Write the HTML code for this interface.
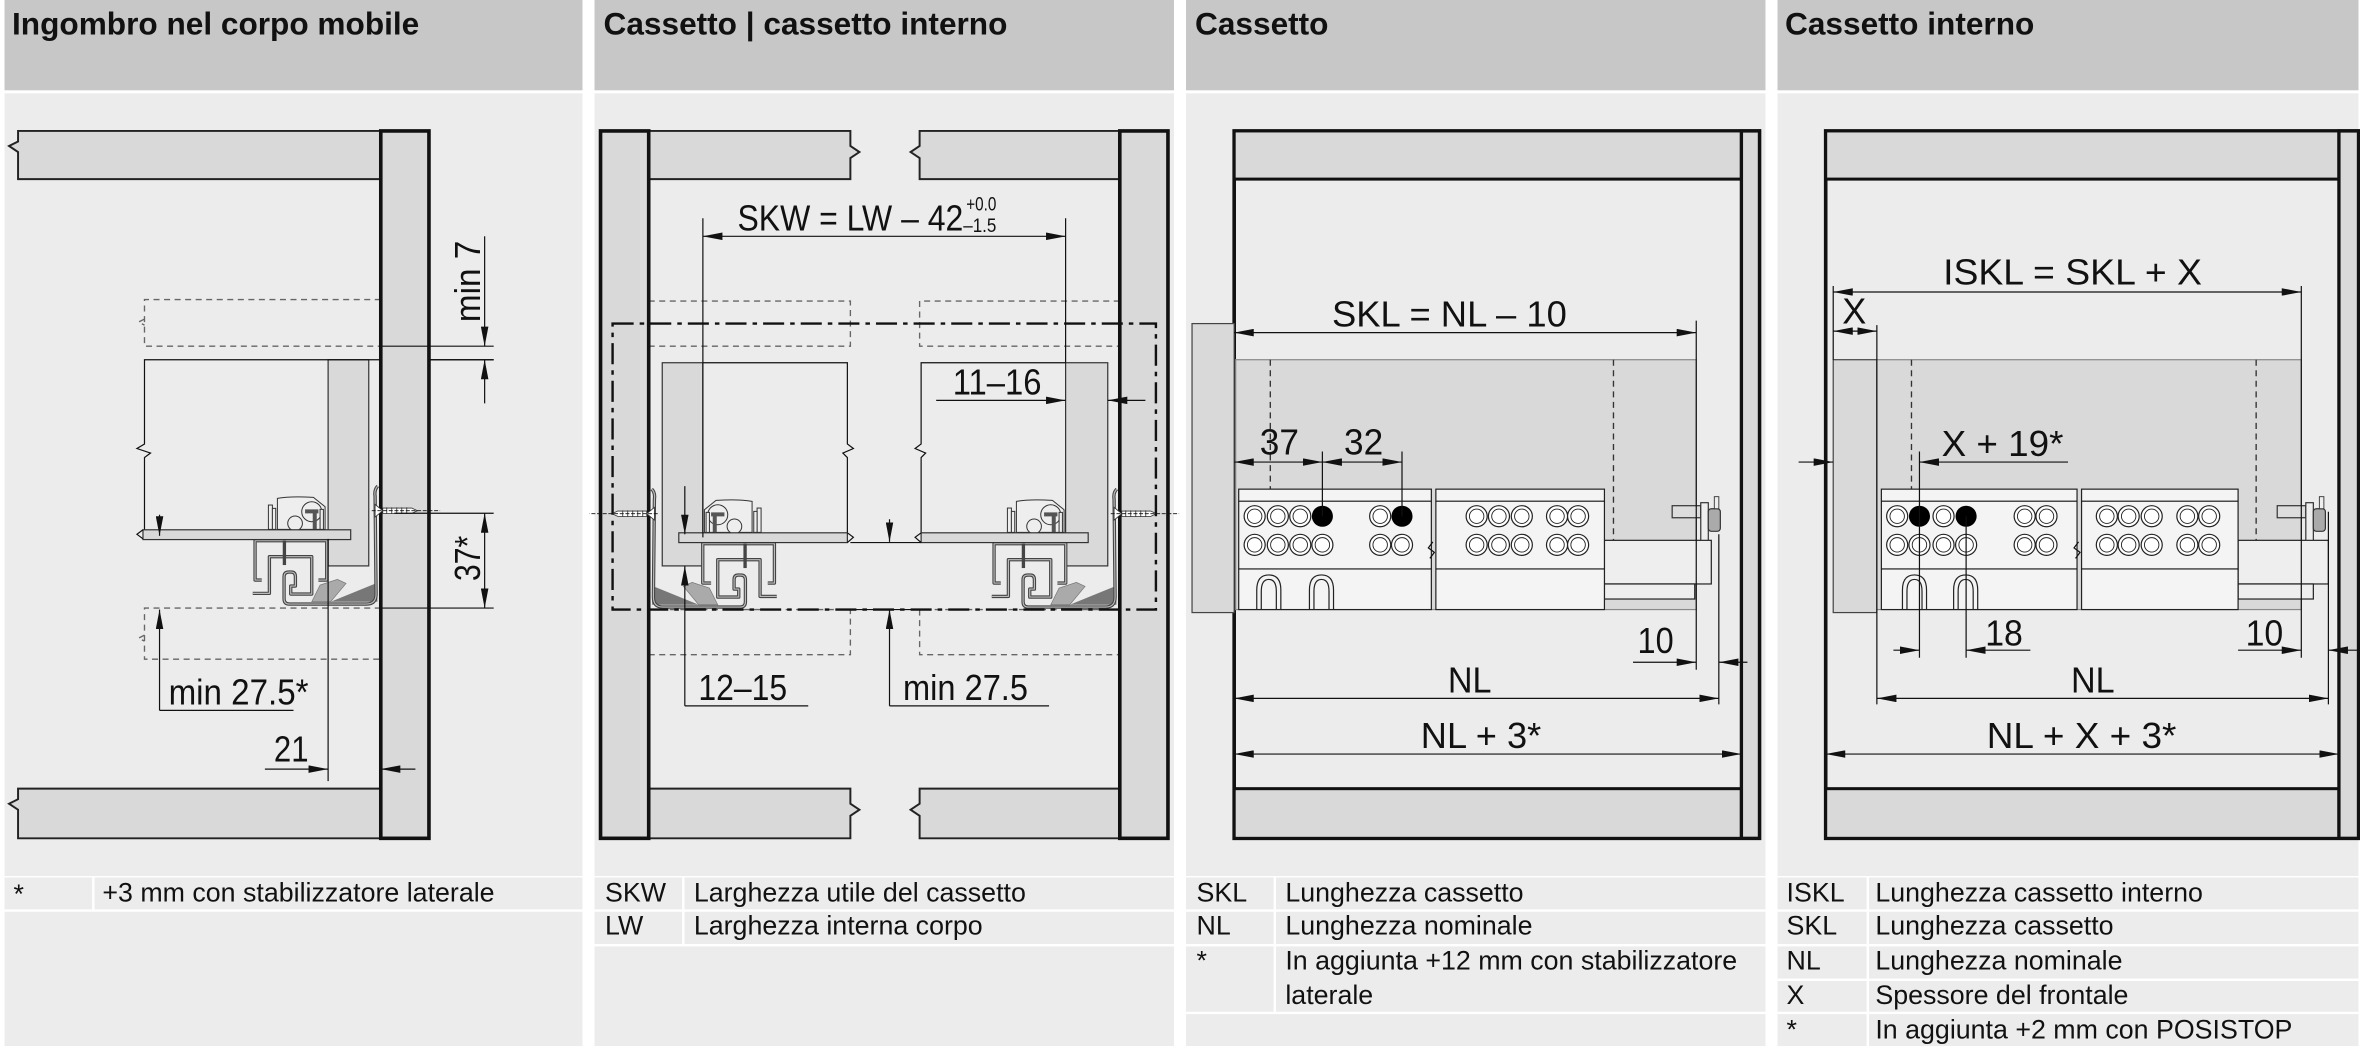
<!DOCTYPE html>
<html><head><meta charset="utf-8"><style>
html,body{margin:0;padding:0;background:#fff}
svg{display:block}
text{font-family:"Liberation Sans",Arial,sans-serif;fill:#111}
.h{font-weight:bold;font-size:21px}
.l{font-size:17.8px}
.d{font-size:24px}
.m{text-anchor:middle}
.k{stroke:#111;fill:none;stroke-width:0.8}
.ds{stroke:#666;fill:none;stroke-width:0.9;stroke-dasharray:4,3}
</style></head><body>
<svg width="2360" height="1051" viewBox="0 0 1568 698.3" preserveAspectRatio="none" xmlns="http://www.w3.org/2000/svg">
<defs>
<marker id="a" viewBox="0 0 13 5" refX="13" refY="2.5" markerWidth="13" markerHeight="5" markerUnits="userSpaceOnUse" orient="auto-start-reverse"><path d="M0,0 L13,2.5 L0,5z" fill="#111"/></marker>
<g id="run">
 <g fill="#eee" stroke="#333" stroke-width="3">
 <rect x="85" y="105" width="12" height="73"/><rect x="97" y="115" width="10" height="63"/>
 <path d="M112,178 L112,85 Q150,78 220,82 L255,110 L255,178z"/>
 <circle cx="165" cy="160" r="22"/><circle cx="215" cy="125" r="30"/>
 <rect x="240" y="118" width="10" height="60"/>
 </g>
 <rect x="195" y="118" width="40" height="12" fill="#555"/><rect x="218" y="125" width="12" height="52" fill="#555"/>
 <path d="M215,395 L240,345 L292,328 L318,340 L272,395z" fill="#aaa" stroke="#777" stroke-width="2"/>
 <path d="M272,395 L412,338 L412,395z" fill="#777"/>
 <g fill="none" stroke-linejoin="round">
 <path d="M413,48 Q402,60 405,78 L408,372 Q408,402 380,402 L148,402 Q132,402 132,386 L132,320 Q132,306 146,306 L154,306 Q166,306 166,320 L166,348 L152,348 L152,372 L215,372 L215,260 L88,260 L88,370 L38,370" stroke="#444" stroke-width="10"/>
 <path d="M413,48 Q402,60 405,78 L408,372 Q408,402 380,402 L148,402 Q132,402 132,386 L132,320 Q132,306 146,306 L154,306 Q166,306 166,320 L166,348 L152,348 L152,372 L215,372 L215,260 L88,260 L88,370 L38,370" stroke="#bbb" stroke-width="3.5"/>
 <path d="M65,330 L45,330 L45,212 L260,212 L260,330 L235,330" stroke="#444" stroke-width="10"/>
 <path d="M65,330 L45,330 L45,212 L260,212 L260,330 L235,330" stroke="#bbb" stroke-width="3.5"/>
 <path d="M133,212 L133,285" stroke="#444" stroke-width="10"/>
 </g>
 <path d="M405,103 L428,122 L405,141z" fill="#fff" stroke="#333" stroke-width="2.5"/>
 <path d="M428,114 L515,114 L532,122 L515,130 L428,130z" fill="#fff" stroke="#333" stroke-width="2.5"/>
 <path d="M440,112 L440,132 M455,112 L455,132 M470,112 L470,132 M485,112 L485,132 M500,112 L500,132" stroke="#333" stroke-width="2.5"/>
 <path d="M395,122 L600,122" stroke="#111" stroke-width="2.5" stroke-dasharray="12,5"/>
</g>
</defs>

<rect x="0" y="0" width="1568" height="698.3" fill="#fff"/>
<g fill="#c6c7c6">
<rect x="3" y="0" width="384" height="60"/><rect x="395" y="0" width="385" height="60"/>
<rect x="788" y="0" width="385" height="60"/><rect x="1181" y="0" width="386" height="60"/>
</g>
<g fill="#ececec">
<rect x="3" y="62" width="384" height="520"/><rect x="395" y="62" width="385" height="520"/>
<rect x="788" y="62" width="385" height="520"/><rect x="1181" y="62" width="386" height="520"/>
<rect x="3" y="583" width="384" height="112"/><rect x="395" y="583" width="385" height="112"/>
<rect x="788" y="583" width="385" height="112"/><rect x="1181" y="583" width="386" height="112"/>
</g>
<g stroke="#fff" stroke-width="1.6">
<path d="M3,605 H387 M395,605 H780 M395,628 H780 M788,605 H1173 M788,628 H1173 M788,673 H1173 M1181,605 H1567 M1181,628 H1567 M1181,651 H1567 M1181,673 H1567"/>
<path d="M62,583 V605 M454,583 V628 M847,583 V673 M1241,583 V695"/>
</g>

<text class="h" x="8" y="23">Ingombro nel corpo mobile</text>
<text class="h" x="401" y="23">Cassetto | cassetto interno</text>
<text class="h" x="794" y="23">Cassetto</text>
<text class="h" x="1186" y="23">Cassetto interno</text>

<text class="l" x="9" y="600">*</text><text class="l" x="68" y="599">+3 mm con stabilizzatore laterale</text>
<text class="l" x="402" y="599">SKW</text><text class="l" x="461" y="599">Larghezza utile del cassetto</text>
<text class="l" x="402" y="621">LW</text><text class="l" x="461" y="621">Larghezza interna corpo</text>
<text class="l" x="795" y="599">SKL</text><text class="l" x="854" y="599">Lunghezza cassetto</text>
<text class="l" x="795" y="621">NL</text><text class="l" x="854" y="621">Lunghezza nominale</text>
<text class="l" x="795" y="644">*</text><text class="l" x="854" y="644">In aggiunta +12 mm con stabilizzatore</text>
<text class="l" x="854" y="667">laterale</text>
<text class="l" x="1187" y="599">ISKL</text><text class="l" x="1246" y="599">Lunghezza cassetto interno</text>
<text class="l" x="1187" y="621">SKL</text><text class="l" x="1246" y="621">Lunghezza cassetto</text>
<text class="l" x="1187" y="644">NL</text><text class="l" x="1246" y="644">Lunghezza nominale</text>
<text class="l" x="1187" y="667">X</text><text class="l" x="1246" y="667">Spessore del frontale</text>
<text class="l" x="1187" y="690">*</text><text class="l" x="1246" y="690">In aggiunta +2 mm con POSISTOP</text>

<!-- ============ PANEL 1 ============ -->
<path d="M253,87 L12,87 L12,94 L6,97 L12,101 L12,119 L253,119" fill="#d9d9d9" stroke="#222" stroke-width="1.3"/>
<path d="M253,524 L12,524 L12,531 L6,534 L12,538 L12,557 L253,557" fill="#d9d9d9" stroke="#222" stroke-width="1.3"/>
<path class="ds" d="M253,199 L96,199 L96,230 L253,230"/>
<path class="ds" d="M253,404 L96,404 L96,438 L253,438"/>
<path d="M96,212 l-4,2 l4,2" class="ds"/><path d="M96,422 l-4,2 l4,2" class="ds"/>
<rect x="218" y="239" width="27" height="137" fill="#d9d9d9" stroke="#333" stroke-width="0.8"/>
<path class="k" d="M328,239 L96,239 L96,295 L91,298 L100,301 L96,304 L96,354"/>
<rect x="253" y="87" width="32" height="470" fill="#d9d9d9" stroke="#111" stroke-width="2.4"/>
<use href="#run" transform="translate(159.5,312.3) scale(0.2215)"/>
<rect x="95" y="352" width="138" height="6.5" fill="#d9d9d9" stroke="#333" stroke-width="0.8"/>
<path d="M95,352 l-4,3 l4,3" class="k"/>
<g class="k">
<path d="M253,230 H328 M285,239 H328 M262,341 H328 M253,404 H328"/>
<path d="M322,157 V230" marker-end="url(#a)"/><path d="M322,268 V239" marker-end="url(#a)"/>
<path d="M322,341 V404" marker-start="url(#a)" marker-end="url(#a)"/>
<path d="M106,342 V356" marker-end="url(#a)"/><path d="M106,472 V405" marker-end="url(#a)"/>
<path d="M106,472 H195"/>
<path d="M218,358 V519"/>
<path d="M176,511 H218" marker-end="url(#a)"/><path d="M276,511 H253" marker-end="url(#a)"/>
</g>
<text class="d" transform="translate(319,214) rotate(-90)" textLength="54" lengthAdjust="spacingAndGlyphs">min 7</text>
<text class="d" transform="translate(319,386) rotate(-90)" textLength="30" lengthAdjust="spacingAndGlyphs">37*</text>
<text class="d" x="112" y="468" textLength="93" lengthAdjust="spacingAndGlyphs">min 27.5*</text>
<text class="d" x="182" y="506" textLength="23" lengthAdjust="spacingAndGlyphs">21</text>

<!-- ============ PANEL 2 ============ -->
<path d="M431,87 L565,87 L565,97 L571,101 L565,105 L565,119 L431,119z" fill="#d9d9d9" stroke="#222" stroke-width="1.3"/>
<path d="M744,87 L611,87 L611,97 L605,101 L611,105 L611,119 L744,119z" fill="#d9d9d9" stroke="#222" stroke-width="1.3"/>
<path d="M431,524 L565,524 L565,534 L571,538 L565,542 L565,557 L431,557z" fill="#d9d9d9" stroke="#222" stroke-width="1.3"/>
<path d="M744,524 L611,524 L611,534 L605,538 L611,542 L611,557 L744,557z" fill="#d9d9d9" stroke="#222" stroke-width="1.3"/>
<path class="ds" d="M431,200 H565 V230 H431 M744,200 H611 V230 H744 M431,405 H565 V435 H431 M744,405 H611 V435 H744"/>
<rect x="440" y="241" width="27" height="135" fill="#d9d9d9" stroke="#333" stroke-width="0.8"/>
<rect x="708" y="241" width="28" height="135" fill="#d9d9d9" stroke="#333" stroke-width="0.8"/>
<path class="k" d="M467,241 H563 V295 L567,298 L560,301 L563,304 V355"/>
<path class="k" d="M708,241 H612 V295 L608,298 L615,301 L612,304 V355"/>
<rect x="399" y="87" width="32" height="470" fill="#d9d9d9" stroke="#111" stroke-width="2.4"/>
<rect x="744" y="87" width="32" height="470" fill="#d9d9d9" stroke="#111" stroke-width="2.4"/>
<use href="#run" transform="translate(684,2) scale(-1,1) translate(159.5,312.3) scale(0.2215)"/>
<use href="#run" transform="translate(491,2) translate(159.5,312.3) scale(0.2215)"/>
<rect x="451" y="354" width="112" height="6.5" fill="#d9d9d9" stroke="#333" stroke-width="0.8"/>
<rect x="612" y="354" width="111" height="6.5" fill="#d9d9d9" stroke="#333" stroke-width="0.8"/>
<path d="M563,354 l4,3 l-4,3.5 M612,354 l-4,3 l4,3.5" class="k"/>
<rect x="407" y="215" width="361" height="190" fill="none" stroke="#111" stroke-width="1.6" stroke-dasharray="14,4,3,4"/>
<g class="k">
<path d="M467,145 V357 M708,145 V241"/>
<path d="M467,157 H708" marker-start="url(#a)" marker-end="url(#a)"/>
<path d="M622,266 H708" marker-end="url(#a)"/><path d="M761,266 H736" marker-end="url(#a)"/>
<path d="M455,323 V355" marker-end="url(#a)"/><path d="M455,469 V376" marker-end="url(#a)"/><path d="M455,469 H537"/>
<path d="M591,345 V360" marker-end="url(#a)"/><path d="M591,469 V405" marker-end="url(#a)"/><path d="M591,469 H697"/>
<path d="M565,360.5 H612 M565,405 H611"/>
</g>
<text class="d" x="490" y="153" textLength="150" lengthAdjust="spacingAndGlyphs">SKW = LW – 42</text>
<text x="642" y="140" style="font-size:13px" textLength="20" lengthAdjust="spacingAndGlyphs">+0.0</text>
<text x="640" y="154" style="font-size:13px" textLength="22" lengthAdjust="spacingAndGlyphs">–1.5</text>
<text class="d" x="633" y="262" textLength="59" lengthAdjust="spacingAndGlyphs">11–16</text>
<text class="d" x="464" y="465" textLength="59" lengthAdjust="spacingAndGlyphs">12–15</text>
<text class="d" x="600" y="465" textLength="83" lengthAdjust="spacingAndGlyphs">min 27.5</text>

<!-- ============ PANEL 3 ============ -->
<rect x="820" y="87" width="349" height="470" fill="#ececec" stroke="#111" stroke-width="2.4"/>
<rect x="820" y="87" width="337" height="32" fill="#d9d9d9" stroke="#111" stroke-width="2"/>
<rect x="820" y="524" width="337" height="33" fill="#d9d9d9" stroke="#111" stroke-width="2"/>
<rect x="1157" y="87" width="12" height="470" fill="#d9d9d9" stroke="#111" stroke-width="2.2"/>
<rect x="792" y="215" width="28" height="192" fill="#d9d9d9" stroke="#444" stroke-width="0.8"/>
<rect x="821" y="239" width="306" height="166" fill="#d9d9d9" stroke="#888" stroke-width="0.8"/>
<path d="M844,239 V325 M1072,239 V360" class="ds" style="stroke:#333"/>
<rect x="1066" y="359" width="71" height="29" fill="#eee" stroke="#222" stroke-width="0.8"/>
<rect x="1066" y="388" width="60" height="10" fill="#eee" stroke="#222" stroke-width="0.8"/>
<rect x="1111" y="336" width="19" height="8" fill="#ddd" stroke="#333" stroke-width="0.8"/>
<rect x="1130" y="334" width="5" height="25" fill="#eee" stroke="#333" stroke-width="0.8"/>
<rect x="1135" y="338" width="8" height="15" rx="2" fill="#aaa" stroke="#333" stroke-width="0.8"/>
<rect x="1139" y="330" width="3" height="8" fill="#eee" stroke="#333" stroke-width="0.6"/>
<g fill="#f4f4f4" stroke="#222" stroke-width="0.8">
<rect x="823" y="325" width="128" height="80"/><rect x="954" y="325" width="112" height="80"/>
</g>
<path class="k" d="M823,333 H951 M823,378 H951 M954,333 H1066 M954,378 H1066"/>
<path d="M952,360 l-3,4 l4,3 l-3,4" class="k"/>
<g fill="none" stroke="#222" stroke-width="0.8">
<path d="M838,405 V393 Q838,385 843,385 Q848,385 848,393 V405 M835,405 V392 Q835,382 843,382 Q851,382 851,392 V405"/>
<path d="M873,405 V393 Q873,385 878,385 Q883,385 883,393 V405 M870,405 V392 Q870,382 878,382 Q886,382 886,392 V405"/>
</g>
<g fill="#fff" stroke="#222" stroke-width="0.8">
<circle cx="833.6" cy="343" r="7"/><circle cx="849" cy="343" r="7"/><circle cx="863.9" cy="343" r="7"/>
<circle cx="833.6" cy="362" r="7"/><circle cx="849" cy="362" r="7"/><circle cx="863.9" cy="362" r="7"/><circle cx="878.6" cy="362" r="7"/>
<circle cx="917" cy="343" r="7"/><circle cx="917" cy="362" r="7"/><circle cx="931.5" cy="362" r="7"/>
<circle cx="981.1" cy="343" r="7"/><circle cx="995.9" cy="343" r="7"/><circle cx="1011.1" cy="343" r="7"/><circle cx="1034.5" cy="343" r="7"/><circle cx="1048.5" cy="343" r="7"/>
<circle cx="981.1" cy="362" r="7"/><circle cx="995.9" cy="362" r="7"/><circle cx="1011.1" cy="362" r="7"/><circle cx="1034.5" cy="362" r="7"/><circle cx="1048.5" cy="362" r="7"/>
</g>
<g fill="none" stroke="#222" stroke-width="0.6">
<circle cx="833.6" cy="343" r="4.8"/><circle cx="849" cy="343" r="4.8"/><circle cx="863.9" cy="343" r="4.8"/>
<circle cx="833.6" cy="362" r="4.8"/><circle cx="849" cy="362" r="4.8"/><circle cx="863.9" cy="362" r="4.8"/><circle cx="878.6" cy="362" r="4.8"/>
<circle cx="917" cy="343" r="4.8"/><circle cx="917" cy="362" r="4.8"/><circle cx="931.5" cy="362" r="4.8"/>
<circle cx="981.1" cy="343" r="4.8"/><circle cx="995.9" cy="343" r="4.8"/><circle cx="1011.1" cy="343" r="4.8"/><circle cx="1034.5" cy="343" r="4.8"/><circle cx="1048.5" cy="343" r="4.8"/>
<circle cx="981.1" cy="362" r="4.8"/><circle cx="995.9" cy="362" r="4.8"/><circle cx="1011.1" cy="362" r="4.8"/><circle cx="1034.5" cy="362" r="4.8"/><circle cx="1048.5" cy="362" r="4.8"/>
</g>
<circle cx="878.6" cy="343" r="7" fill="#000"/><circle cx="931.5" cy="343" r="7" fill="#000"/>
<g class="k">
<path d="M1127,213 V445 M1142,355 V468 M878.6,300 V343 M931.5,300 V343"/>
<path d="M820,221 H1127" marker-start="url(#a)" marker-end="url(#a)"/>
<path d="M820,307 H878.6" marker-start="url(#a)" marker-end="url(#a)"/>
<path d="M878.6,307 H931.5" marker-start="url(#a)" marker-end="url(#a)"/>
<path d="M1085,440 H1127" marker-end="url(#a)"/><path d="M1161,440 H1142" marker-end="url(#a)"/>
<path d="M820,464 H1142" marker-start="url(#a)" marker-end="url(#a)"/>
<path d="M820,501 H1157" marker-start="url(#a)" marker-end="url(#a)"/>
</g>
<text class="d" x="885" y="217" textLength="156" lengthAdjust="spacingAndGlyphs">SKL = NL – 10</text>
<text class="d" x="837" y="302" textLength="26" lengthAdjust="spacingAndGlyphs">37</text>
<text class="d" x="893" y="302" textLength="26" lengthAdjust="spacingAndGlyphs">32</text>
<text class="d" x="1088" y="434" textLength="24" lengthAdjust="spacingAndGlyphs">10</text>
<text class="d" x="962" y="460" textLength="29" lengthAdjust="spacingAndGlyphs">NL</text>
<text class="d" x="944" y="497" textLength="80" lengthAdjust="spacingAndGlyphs">NL + 3*</text>

<!-- ============ PANEL 4 ============ -->
<rect x="1213" y="87" width="354" height="470" fill="#ececec" stroke="#111" stroke-width="2.4"/>
<rect x="1213" y="87" width="341" height="32" fill="#d9d9d9" stroke="#111" stroke-width="2"/>
<rect x="1213" y="524" width="341" height="33" fill="#d9d9d9" stroke="#111" stroke-width="2"/>
<rect x="1554" y="87" width="13" height="470" fill="#d9d9d9" stroke="#111" stroke-width="2.2"/>
<rect x="1218" y="239" width="29" height="168" fill="#d9d9d9" stroke="#444" stroke-width="0.8"/>
<rect x="1247" y="239" width="282" height="166" fill="#d9d9d9" stroke="#888" stroke-width="0.8"/>
<path d="M1270,239 V325 M1499,239 V360" class="ds" style="stroke:#333"/>
<rect x="1487" y="359" width="60" height="29" fill="#eee" stroke="#222" stroke-width="0.8"/>
<rect x="1487" y="388" width="50" height="10" fill="#eee" stroke="#222" stroke-width="0.8"/>
<rect x="1513" y="336" width="19" height="8" fill="#ddd" stroke="#333" stroke-width="0.8"/>
<rect x="1532" y="334" width="5" height="25" fill="#eee" stroke="#333" stroke-width="0.8"/>
<rect x="1537" y="338" width="8" height="15" rx="2" fill="#aaa" stroke="#333" stroke-width="0.8"/>
<rect x="1541" y="330" width="3" height="8" fill="#eee" stroke="#333" stroke-width="0.6"/>
<g fill="#f4f4f4" stroke="#222" stroke-width="0.8">
<rect x="1250" y="325" width="130" height="80"/><rect x="1383" y="325" width="104" height="80"/>
</g>
<path class="k" d="M1250,333 H1380 M1250,378 H1380 M1383,333 H1487 M1383,378 H1487"/>
<path d="M1381,360 l-3,4 l4,3 l-3,4" class="k"/>
<g fill="none" stroke="#222" stroke-width="0.8">
<path d="M1267,405 V393 Q1267,385 1272,385 Q1277,385 1277,393 V405 M1264,405 V392 Q1264,382 1272,382 Q1280,382 1280,392 V405"/>
<path d="M1301,405 V393 Q1301,385 1306,385 Q1311,385 1311,393 V405 M1298,405 V392 Q1298,382 1306,382 Q1314,382 1314,392 V405"/>
</g>
<g fill="#fff" stroke="#222" stroke-width="0.8">
<circle cx="1260.5" cy="343" r="7"/><circle cx="1291.3" cy="343" r="7"/><circle cx="1345.2" cy="343" r="7"/><circle cx="1359.7" cy="343" r="7"/>
<circle cx="1260.5" cy="362" r="7"/><circle cx="1275.3" cy="362" r="7"/><circle cx="1291.3" cy="362" r="7"/><circle cx="1306.3" cy="362" r="7"/><circle cx="1345.2" cy="362" r="7"/><circle cx="1359.7" cy="362" r="7"/>
<circle cx="1399.8" cy="343" r="7"/><circle cx="1414.3" cy="343" r="7"/><circle cx="1429.6" cy="343" r="7"/><circle cx="1453.3" cy="343" r="7"/><circle cx="1467.8" cy="343" r="7"/>
<circle cx="1399.8" cy="362" r="7"/><circle cx="1414.3" cy="362" r="7"/><circle cx="1429.6" cy="362" r="7"/><circle cx="1453.3" cy="362" r="7"/><circle cx="1467.8" cy="362" r="7"/>
</g>
<g fill="none" stroke="#222" stroke-width="0.6">
<circle cx="1260.5" cy="343" r="4.8"/><circle cx="1291.3" cy="343" r="4.8"/><circle cx="1345.2" cy="343" r="4.8"/><circle cx="1359.7" cy="343" r="4.8"/>
<circle cx="1260.5" cy="362" r="4.8"/><circle cx="1275.3" cy="362" r="4.8"/><circle cx="1291.3" cy="362" r="4.8"/><circle cx="1306.3" cy="362" r="4.8"/><circle cx="1345.2" cy="362" r="4.8"/><circle cx="1359.7" cy="362" r="4.8"/>
<circle cx="1399.8" cy="343" r="4.8"/><circle cx="1414.3" cy="343" r="4.8"/><circle cx="1429.6" cy="343" r="4.8"/><circle cx="1453.3" cy="343" r="4.8"/><circle cx="1467.8" cy="343" r="4.8"/>
<circle cx="1399.8" cy="362" r="4.8"/><circle cx="1414.3" cy="362" r="4.8"/><circle cx="1429.6" cy="362" r="4.8"/><circle cx="1453.3" cy="362" r="4.8"/><circle cx="1467.8" cy="362" r="4.8"/>
</g>
<circle cx="1275.3" cy="343" r="7" fill="#000"/><circle cx="1306.3" cy="343" r="7" fill="#000"/>
<g class="k">
<path d="M1218,190 V239 M1247,216 V468 M1529,190 V437 M1547,340 V468 M1275.3,300 V437 M1306.3,343 V437"/>
<path d="M1218,194 H1529" marker-start="url(#a)" marker-end="url(#a)"/>
<path d="M1218,220 H1247" marker-start="url(#a)" marker-end="url(#a)"/>
<path d="M1195,307 H1218" marker-end="url(#a)"/><path d="M1374,307 H1275.3" marker-end="url(#a)"/>
<path d="M1258,432 H1275.3" marker-end="url(#a)"/><path d="M1349,432 H1306.3" marker-end="url(#a)"/>
<path d="M1487,432 H1529" marker-end="url(#a)"/><path d="M1567,432 H1547" marker-end="url(#a)"/>
<path d="M1247,464 H1547" marker-start="url(#a)" marker-end="url(#a)"/>
<path d="M1213,501 H1554" marker-start="url(#a)" marker-end="url(#a)"/>
</g>
<text class="d" x="1291" y="189" textLength="172" lengthAdjust="spacingAndGlyphs">ISKL = SKL + X</text>
<text class="d" x="1224" y="215" textLength="16" lengthAdjust="spacingAndGlyphs">X</text>
<text class="d" x="1290" y="303" textLength="81" lengthAdjust="spacingAndGlyphs">X + 19*</text>
<text class="d" x="1319" y="429" textLength="25" lengthAdjust="spacingAndGlyphs">18</text>
<text class="d" x="1492" y="429" textLength="25" lengthAdjust="spacingAndGlyphs">10</text>
<text class="d" x="1376" y="460" textLength="29" lengthAdjust="spacingAndGlyphs">NL</text>
<text class="d" x="1320" y="497" textLength="126" lengthAdjust="spacingAndGlyphs">NL + X + 3*</text>
</svg>
</body></html>
